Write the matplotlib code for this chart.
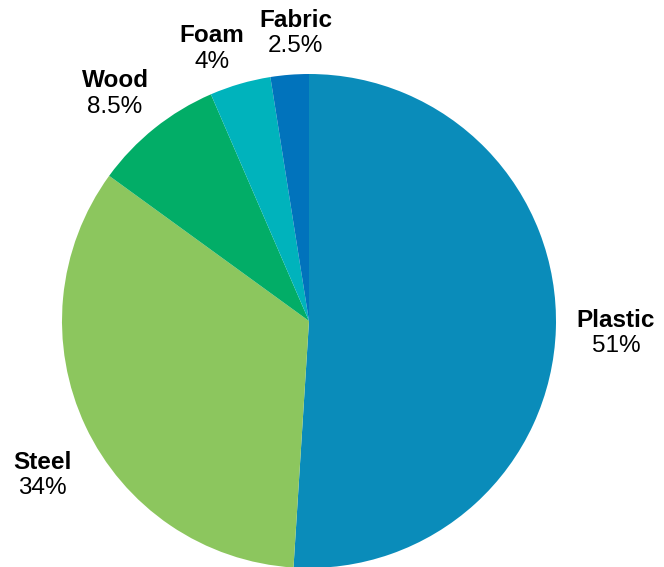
import matplotlib.pyplot as plt

categories = ['Plastic', 'Steel', 'Wood', 'Foam', 'Fabric']
shares = [51, 34, 8.5, 4, 2.5]
pct_labels = ['51%', '34%', '8.5%', '4%', '2.5%']
colors = ['#0a8cba', '#8cc65e', '#02ad67', '#00b3bc', '#0173bc']

# label centres in data units (pie radius = 1)
label_pos = [(1.243, -0.04), (-1.081, -0.615), (-0.785, 0.93), (-0.393, 1.112), (-0.053, 1.175)]

plt.rcParams['font.family'] = ['Liberation Sans', 'DejaVu Sans']

fig = plt.figure(figsize=(6.64, 5.67), dpi=100)
ax = fig.add_axes([62 / 664, -1 / 567, 494 / 664, 494 / 567])
ax.pie(shares, colors=colors, startangle=90, counterclock=False, radius=1,
       wedgeprops=dict(linewidth=0))
ax.set_xlim(-1, 1)
ax.set_ylim(-1, 1)
ax.set_aspect('equal')
ax.axis('off')

for name, pct, (x, y) in zip(categories, pct_labels, label_pos):
    ax.text(x, y - 0.004, name, ha='center', va='bottom', fontsize=17.5,
            fontweight='bold', clip_on=False)
    ax.text(x, y - 0.018, pct, ha='center', va='top', fontsize=17.5,
            clip_on=False)

fig.savefig('out.png', dpi=100)
